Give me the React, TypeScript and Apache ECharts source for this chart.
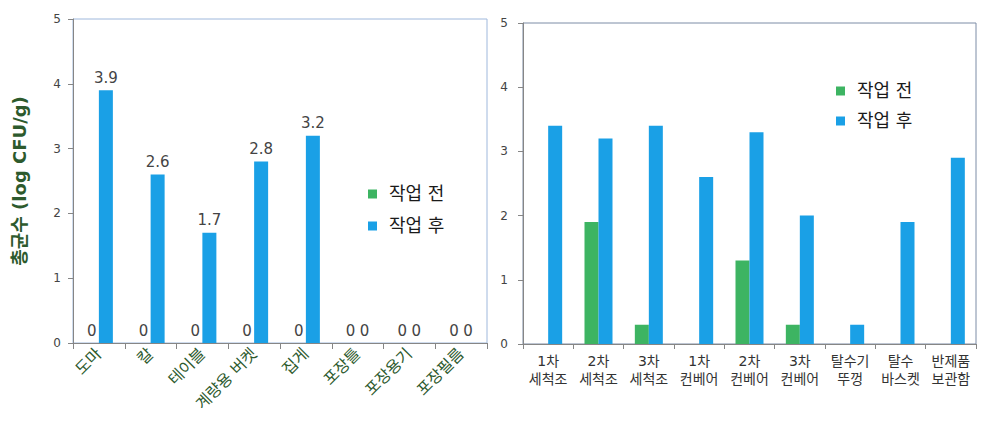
import React, { useEffect, useRef } from "react";
import * as echarts from "echarts";

const leftCategories = ["도마", "칼", "테이블", "계량용 버켓", "집게", "포장틀", "포장용기", "포장필름"];
const leftBefore = [0, 0, 0, 0, 0, 0, 0, 0];
const leftAfter = [3.9, 2.6, 1.7, 2.8, 3.2, 0, 0, 0];

const rightCategories = [
  "1차\n세척조", "2차\n세척조", "3차\n세척조",
  "1차\n컨베어", "2차\n컨베어", "3차\n컨베어",
  "탈수기\n뚜껑", "탈수\n바스켓", "반제품\n보관함",
];
const rightBefore = [0, 1.9, 0.3, 0, 1.3, 0.3, 0, 0, 0];
const rightAfter = [3.4, 3.2, 3.4, 2.6, 3.3, 2.0, 0.3, 1.9, 2.9];

const yTicks = [0, 1, 2, 3, 4, 5];
const seriesNames = ["작업 전", "작업 후"];

const GREEN = "#3db462";
const BLUE = "#1aa0e6";
const FONT = "'DejaVu Sans', 'Noto Sans CJK KR', sans-serif";

export default function App() {
  const ref = useRef<HTMLDivElement>(null);
  useEffect(() => {
    if (!ref.current) return;
    const chart = echarts.init(ref.current, undefined, { renderer: "svg" });
    const yAxisBase = (idx: number, margin: number) => ({
      type: "value",
      gridIndex: idx,
      min: yTicks[0],
      max: yTicks[yTicks.length - 1],
      interval: 1,
      axisLine: { show: true, lineStyle: { color: "#868686", width: 1 } },
      axisTick: { show: true, length: 5, lineStyle: { color: "#868686" } },
      splitLine: { show: false },
      axisLabel: { color: "#444", fontSize: 12, fontFamily: FONT, margin },
    });
    const labelStyle = {
      show: true,
      position: "top",
      distance: 5,
      color: "#444",
      fontSize: 15,
      fontFamily: FONT,
    };
    const legendText = { fontSize: 18, color: "#1a1a1a", fontFamily: FONT, padding: [0, 0, 0, 7] };
    chart.setOption({
      animation: false,
      backgroundColor: "#ffffff",
      textStyle: { fontFamily: FONT },
      grid: [
        { left: 73, top: 19, width: 414, height: 324, show: true, borderColor: "#9fb8dc", borderWidth: 1, backgroundColor: "transparent" },
        { left: 523, top: 23, width: 453, height: 321, show: true, borderColor: "#7d8ca6", borderWidth: 1, backgroundColor: "transparent" },
      ],
      legend: [
        {
          data: seriesNames,
          orient: "vertical",
          left: 363,
          top: 180,
          itemWidth: 9,
          itemHeight: 9,
          itemGap: 14,
          icon: "rect",
          textStyle: legendText,
        },
        {
          data: seriesNames,
          orient: "vertical",
          left: 831,
          top: 77,
          itemWidth: 9,
          itemHeight: 9,
          itemGap: 12,
          icon: "rect",
          textStyle: legendText,
        },
      ],
      xAxis: [
        {
          type: "category",
          gridIndex: 0,
          data: leftCategories,
          axisLine: { show: true, lineStyle: { color: "#868686" } },
          axisTick: { show: true, length: 6, lineStyle: { color: "#868686" } },
          axisLabel: { interval: 0, rotate: 45, color: "#2d5a2d", fontSize: 16, fontFamily: FONT, margin: 8 },
        },
        {
          type: "category",
          gridIndex: 1,
          data: rightCategories,
          axisLine: { show: true, lineStyle: { color: "#868686" } },
          axisTick: { show: true, length: 5, lineStyle: { color: "#868686" } },
          axisLabel: { interval: 0, color: "#333", fontSize: 14, lineHeight: 18, fontFamily: FONT, margin: 8 },
        },
      ],
      yAxis: [
        {
          ...yAxisBase(0, 12),
          name: "총균수 (log CFU/g)",
          nameLocation: "middle",
          nameRotate: 90,
          nameGap: 45,
          nameTextStyle: { color: "#2d5a2d", fontSize: 18, fontWeight: "bold", fontFamily: FONT },
        },
        yAxisBase(1, 15),
      ],
      series: [
        {
          name: seriesNames[0],
          type: "bar",
          xAxisIndex: 0,
          yAxisIndex: 0,
          data: leftBefore,
          barWidth: 14,
          barGap: "0%",
          itemStyle: { color: GREEN },
          label: labelStyle,
        },
        {
          name: seriesNames[1],
          type: "bar",
          xAxisIndex: 0,
          yAxisIndex: 0,
          data: leftAfter,
          barWidth: 14,
          barGap: "0%",
          itemStyle: { color: BLUE },
          label: labelStyle,
        },
        {
          name: seriesNames[0],
          type: "bar",
          xAxisIndex: 1,
          yAxisIndex: 1,
          data: rightBefore,
          barWidth: 14,
          barGap: "0%",
          itemStyle: { color: GREEN },
        },
        {
          name: seriesNames[1],
          type: "bar",
          xAxisIndex: 1,
          yAxisIndex: 1,
          data: rightAfter,
          barWidth: 14,
          barGap: "0%",
          itemStyle: { color: BLUE },
        },
      ],
    });
    return () => chart.dispose();
  }, []);
  return (
    <div
      ref={ref}
      style={{ position: "fixed", left: 0, top: 0, width: 994, height: 422, background: "#fff" }}
    />
  );
}
